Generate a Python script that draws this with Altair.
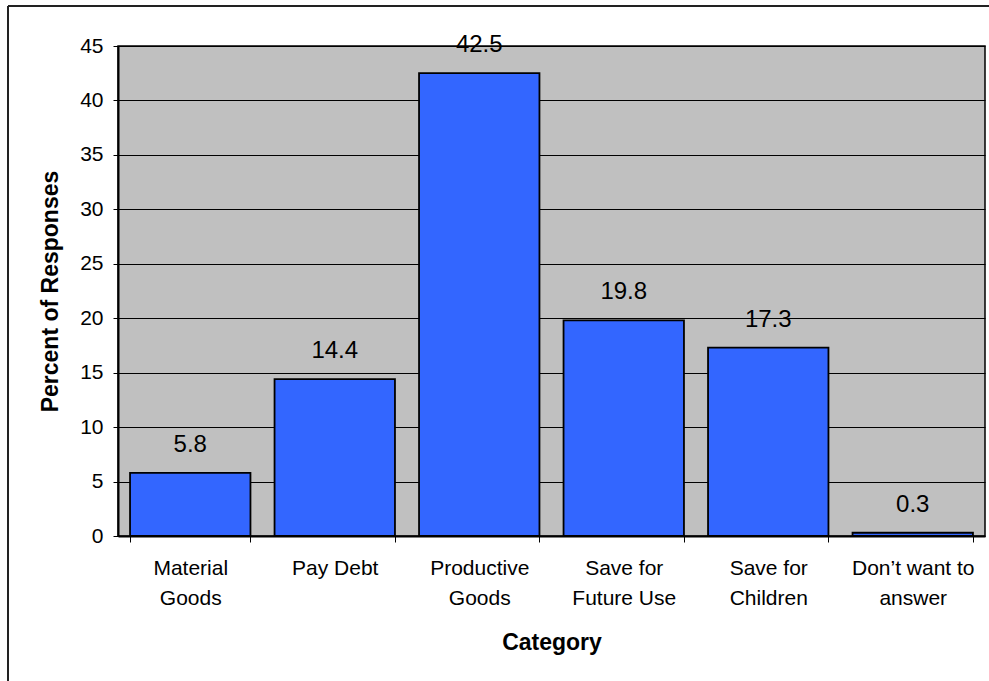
import altair as alt
import pandas as pd

# Survey results: share of responses per intended use
categories = [
    "Material\nGoods",
    "Pay Debt",
    "Productive\nGoods",
    "Save for\nFuture Use",
    "Save for\nChildren",
    "Don’t want to\nanswer",
]
percent = [5.8, 14.4, 42.5, 19.8, 17.3, 0.3]
y_ticks = [0, 5, 10, 15, 20, 25, 30, 35, 40, 45]

FONT = "Liberation Sans"

df = pd.DataFrame({"category": categories, "percent": percent})

x_enc = alt.X(
    "category:N",
    sort=None,
    scale=alt.Scale(paddingInner=1 / 6, paddingOuter=1 / 12),
    axis=alt.Axis(
        title="Category",
        labelExpr="split(datum.label, '\\n')",
        labelAngle=0,
        labelAlign="center",
        labelBaseline="top",
        labelFontSize=21,
        labelLineHeight=30,
        labelPadding=15,
        labelColor="black",
        labelFont=FONT,
        tickBand="extent",
        tickSize=6,
        tickColor="black",
        domainColor="black",
        domainWidth=2,
        grid=False,
        titleFontSize=23,
        titleFontWeight="bold",
        titleFont=FONT,
        titleColor="black",
        titleY=106,
        titleBaseline="middle",
    ),
)

y_enc = alt.Y(
    "percent:Q",
    scale=alt.Scale(domain=[0, 45], nice=False),
    axis=alt.Axis(
        title="Percent of Responses",
        values=y_ticks,
        labelFontSize=21,
        labelFont=FONT,
        labelColor="black",
        labelPadding=10,
        tickSize=5,
        tickColor="black",
        domainColor="black",
        domainWidth=2,
        grid=True,
        gridColor="black",
        gridWidth=1,
        gridOpacity=1,
        titleFontSize=23,
        titleFontWeight="bold",
        titleFont=FONT,
        titleColor="black",
        titleX=-68,
        titleBaseline="middle",
    ),
)

base = alt.Chart(df).encode(x=x_enc, y=y_enc)

bars = base.mark_bar(color="#3366FF", stroke="black", strokeWidth=1.8)

labels = base.mark_text(
    dy=-28, baseline="middle", align="center", fontSize=24, font=FONT, color="black"
).encode(text=alt.Text("percent:Q", format=".1f"))

# Outer chart frame (left and top edges)
edge = pd.DataFrame({"edge": [0]})
frame_left = alt.Chart(edge).mark_rule(color="#222222", strokeWidth=2).encode(
    x=alt.value(-110), y=alt.value(-40), y2=alt.value(700)
)
frame_top = alt.Chart(edge).mark_rule(color="#222222", strokeWidth=2).encode(
    x=alt.value(-110), x2=alt.value(900), y=alt.value(-40)
)

chart = (
    alt.layer(bars, labels, frame_left, frame_top)
    .properties(
        width=867,
        height=490,
        autosize=alt.AutoSizeParams(type="none"),
        padding={"left": 118, "top": 46, "right": 4, "bottom": 145},
        background="white",
    )
    .configure_view(fill="#C0C0C0", stroke="black", strokeWidth=1.5)
)

chart.save("out.html", embed_options={"renderer": "svg", "actions": False})
